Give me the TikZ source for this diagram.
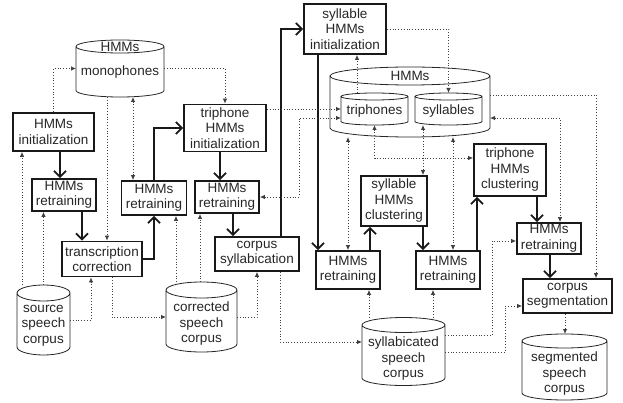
\documentclass[tikz,border=0pt]{standalone}
\usepackage{fontspec}
\setmainfont{Liberation Sans}
\usetikzlibrary{arrows.meta}

\tikzset{
  box/.style={draw=black!90,line width=1.8pt,align=center,inner sep=1pt,text=black!85},
  db/.style={inner sep=0pt,outer sep=0pt},
  dbline/.style={draw=black!85,line width=0.8pt},
  txt/.style={align=center,inner sep=0pt,text=black!85},
  flow/.style={line width=1.8pt,color=black!90,>={Straight Barb[length=6pt,width=12pt]},->},
  dat/.style={dotted,line width=0.8pt,color=black!75,>={Latex[length=5pt,width=4.5pt]},->},
}
% node, x radius, y radius
\newcommand{\drum}[3]{%
  \draw[dbline] ([yshift=-#3]#1.north west) -- ([yshift=#3]#1.south west)
    arc[start angle=180,end angle=360,x radius=#2,y radius=#3]
    -- ([yshift=-#3]#1.north east)
    arc[start angle=0,end angle=360,x radius=#2,y radius=#3];}

\begin{document}
\begin{tikzpicture}[x=1pt,y=-1pt,font=\fontsize{13.5}{15.5}\selectfont]
\useasboundingbox (0,0) rectangle (623,403);
\node[db,minimum width=88,minimum height=57] (mono) at (120,68.5) {};
\drum{mono}{44pt}{6.5pt}
\node[txt] (monot) at (120,47) {HMMs};
\node[txt] (monob) at (120,72) {monophones};
\node[db,minimum width=53,minimum height=70] (src) at (43.5,320) {};
\drum{src}{26.5pt}{8pt}
\node[txt] (srct) at (43.5,325.5) {source\\speech\\corpus};
\node[db,minimum width=71,minimum height=70] (corr) at (201.5,317) {};
\drum{corr}{35.5pt}{8pt}
\node[txt] (corrt) at (201.5,324) {corrected\\speech\\corpus};
\node[db,minimum width=160,minimum height=70] (hmms) at (410,102) {};
\drum{hmms}{80pt}{9pt}
\node[txt] (hmmst) at (410,76) {HMMs};
\node[db,minimum width=67,minimum height=32] (triph) at (374.5,109) {};
\drum{triph}{33.5pt}{3.5pt}
\node[txt] (tripht) at (374.5,111) {triphones};
\node[db,minimum width=67,minimum height=32] (sylls) at (448.5,109) {};
\drum{sylls}{33.5pt}{3.5pt}
\node[txt] (syllst) at (448.5,111) {syllables};
\node[db,minimum width=83,minimum height=68] (sylc) at (403.5,351.5) {};
\drum{sylc}{41.5pt}{7.5pt}
\node[txt] (sylct) at (403.5,359) {syllabicated\\speech\\corpus};
\node[db,minimum width=85,minimum height=66] (segc) at (564.5,367) {};
\drum{segc}{42.5pt}{7pt}
\node[txt] (segct) at (564.5,374) {segmented\\speech\\corpus};

\node[box,minimum width=81,minimum height=38] (init) at (53.5,132) {HMMs\\initialization};
\node[box,minimum width=64,minimum height=32] (rt1) at (64,195) {HMMs\\retraining};
\node[box,minimum width=80,minimum height=35] (tc) at (102,259) {transcription\\correction};
\node[box,minimum width=65,minimum height=34] (rt2) at (154,198) {HMMs\\retraining};
\node[box,minimum width=82,minimum height=47] (tri_init) at (225,128) {triphone\\HMMs\\initialization};
\node[box,minimum width=64,minimum height=32] (rt3) at (227,197) {HMMs\\retraining};
\node[box,minimum width=84,minimum height=34] (syl) at (257,254) {corpus\\syllabication};
\node[box,minimum width=82,minimum height=50] (syl_init) at (345,29) {syllable\\HMMs\\initialization};
\node[box,minimum width=64,minimum height=38] (rt4) at (348,270) {HMMs\\retraining};
\node[box,minimum width=66,minimum height=50] (syl_clu) at (394,201) {syllable\\HMMs\\clustering};
\node[box,minimum width=64,minimum height=38] (rt5) at (448,270) {HMMs\\retraining};
\node[box,minimum width=72,minimum height=52] (tri_clu) at (510,170) {triphone\\HMMs\\clustering};
\node[box,minimum width=64,minimum height=31] (rt6) at (549,238.5) {HMMs\\retraining};
\node[box,minimum width=89,minimum height=34] (seg) at (567.5,296) {corpus\\segmentation};

\path[flow] (init.south -| 60,0) edge (rt1.north -| 60,0);
\path[flow] (rt1.south -| 82,0) edge (tc.north -| 82,0);
\draw[flow] (tc.east) -| (rt2.south);
\draw[flow] (rt2.north) |- (tri_init.west);
\path[flow] (tri_init.south -| 220,0) edge (rt3.north -| 220,0);
\path[flow] (rt3.south -| 233,0) edge (syl.north -| 233,0);
\draw[flow] (syl.north -| 281,0) |- (syl_init.west);
\path[flow] (syl_init.south -| 318,0) edge (rt4.north -| 318,0);
\path[flow] (rt4.north -| 370,0) edge (syl_clu.south -| 370,0);
\path[flow] (syl_clu.south -| 423,0) edge (rt5.north -| 423,0);
\path[flow] (rt5.north -| 477,0) edge (tri_clu.south -| 477,0);
\path[flow] (tri_clu.south -| 537,0) edge (rt6.north -| 537,0);
\path[flow] (rt6.south -| 550,0) edge (seg.north -| 550,0);

\draw[dat] (init.north) |- (mono.west);
\path[dat] (src.north -| 22,0) edge (init.south -| 22,0);
\path[dat] (src.north) edge (rt1.south -| src.north);
\draw[dat] (src.east) -| ([xshift=-11pt]tc.south);
\path[dat] (mono.south -| 107,0) edge (tc.north -| 107,0);
\path[dat,<->] (mono.south -| 133,0) edge (rt2.north -| 133,0);
\draw[dat] (mono.east) -| (tri_init.north);
\draw[dat] (tc.south -| 112,0) |- (corr.west);
\path[dat] (corr.north -| 176,0) edge (rt2.south -| 176,0);
\path[dat] (corr.north -| 200,0) edge (rt3.south -| 200,0);
\draw[dat] (corr.east) -| (syl.south);
\path[dat] (tri_init.east |- triph.west) edge (triph.west);
\draw[dat,<->] (rt3.east) -| (299,118) -- (triph.west |- 0,118);
\path[dat] (triph.north -| 357,0) edge (syl_init.south -| 357,0);
\draw[dat] (syl_init.east) -| (sylls.north);
\draw[dat,<->] (triph.south) |- (tri_clu.west |- 0,158);
\path[dat,<->] (sylls.south -| 423,0) edge (syl_clu.north -| 423,0);
\path[dat,<->] (hmms.south -| 348,0) edge (rt4.north -| 348,0);
\path[dat,<->] (hmms.south -| 453,0) edge (rt5.north -| 453,0);
\draw[dat] (hmms.east |- 0,95) -| (seg.north -| 596,0);
\draw[dat,<->] (hmms.east |- 0,118) -| (rt6.north -| 560,0);
\draw[dat] (syl.south -| 280,0) |- (sylc.west |- 0,342);
\path[dat] (sylc.north -| 369,0) edge (rt4.south -| 369,0);
\path[dat] (sylc.north -| 433,0) edge (rt5.south -| 433,0);
\draw[dat] (sylc.east |- 0,335) -| (492,241) -- (rt6.west |- 0,241);
\draw[dat] (sylc.east |- 0,352) -| (505,306) -- (seg.west |- 0,306);
\path[dat] (seg.south -| 565,0) edge (segc.north -| 565,0);
\end{tikzpicture}
\end{document}
